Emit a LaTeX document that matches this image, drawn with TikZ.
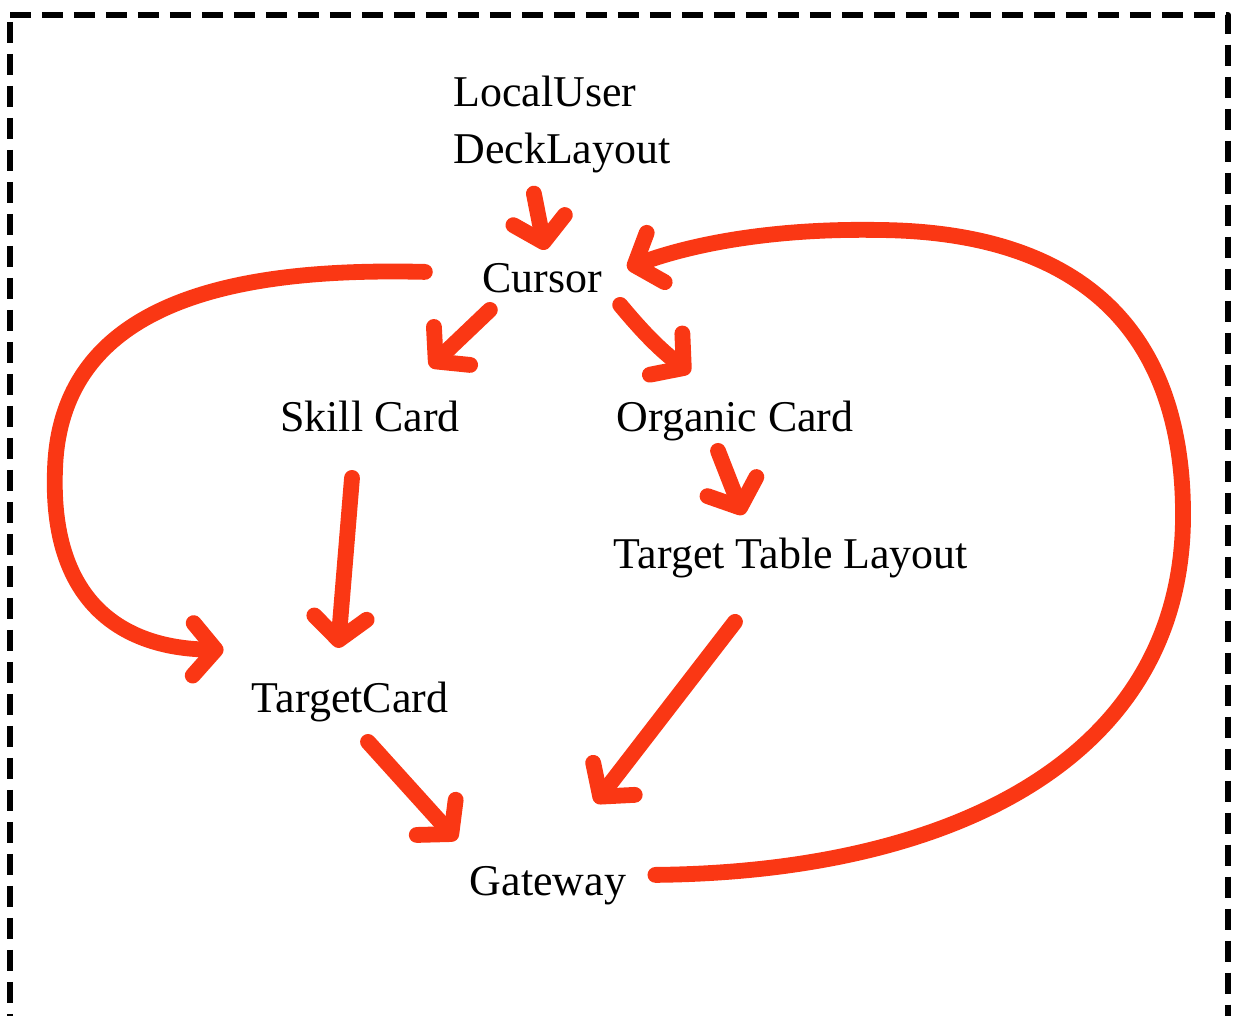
\documentclass[tikz,border=0pt]{standalone}
\usepackage{fontspec}
\setmainfont{Liberation Serif}
\usetikzlibrary{arrows.meta}
\definecolor{penred}{RGB}{250,55,20}
\begin{document}
\begin{tikzpicture}[x=0.02cm, y=-0.02cm, line cap=round, line join=round,
    tag/.style={inner sep=0pt, font=\fontsize{25}{32.4}\selectfont},
    one/.style={tag, text height=17.5pt, text depth=6pt, anchor=base},
    flow/.style={draw=penred, line width=9pt, -{Straight Barb[round, length=0.45cm, width=1.05cm]}}]
  \useasboundingbox (0,0) rectangle (1234,1016);
  % Frame
  \draw [line width=0.12cm, line cap=butt, dash pattern=on 0.42cm off 0.22cm] (10,15) -- (1228,15) -- (1228,1016);
  \draw [line width=0.12cm, line cap=butt, dash pattern=on 0.42cm off 0.22cm, dash phase=0.5cm] (10,15) -- (10,1016);
  % First layer
  \node [tag, align=left, anchor=north west] (node-1-1) at (453,76) {LocalUser\\DeckLayout};
  % Second layer
  \node [one] (node-2-1) at (542,293) {Cursor};
  % Third layer
  \node [one] (node-3-1) at (370,432) {Skill Card};
  \node [one] (node-3-2) at (735,432) {Organic Card};
  % Fourth layer
  \node [one] (node-4-1) at (350,712) {TargetCard};
  \node [one] (node-4-2) at (791,568) {Target Table Layout};
  % Fifth layer
  \node [one] (node-5-1) at (548,895) {Gateway};
  % Arrows down the middle
  \draw [flow] ([shift={(-28,20)}]node-1-1.south) -- ([shift={(3,-12)}]node-2-1.north);
  \draw [flow] ([shift={(8,6)}]node-2-1.south west) -- ([shift={(-30,-34)}]node-3-1.north east);
  \draw [flow] ([shift={(18,1)}]node-2-1.south east) to[bend right=6] ([shift={(-45,-28)}]node-3-2.north);
  \draw [flow] ([shift={(-17,8)}]node-3-2.south) -- ([shift={(-48,-22)}]node-4-2.north);
  \draw [flow] ([shift={(-18,35)}]node-3-1.south) -- ([shift={(-12,-33)}]node-4-1.north);
  \draw [flow] ([shift={(18,19)}]node-4-1.south) -- ([shift={(-13,-24)}]node-5-1.north west);
  \draw [flow] ([shift={(-56,43)}]node-4-2.south) -- ([shift={(-31,-61)}]node-5-1.north east);
  % Long way round on the left
  \draw [flow] ([shift={(-57,-11)}]node-2-1.west) .. controls (260,268) and (60,290) .. (55,470)
    .. controls (50,600) and (120,648) .. ([shift={(-28,-31)}]node-4-1.north west);
  % Loop back on the right
  \draw [flow] ([shift={(29,-10)}]node-5-1.east) .. controls (950,872) and (1180,760) .. (1183,520)
    .. controls (1185,330) and (1080,232) .. (880,230)
    .. controls (770,228) and (690,245) .. ([shift={(25,-15)}]node-2-1.east);
\end{tikzpicture}
\end{document}
